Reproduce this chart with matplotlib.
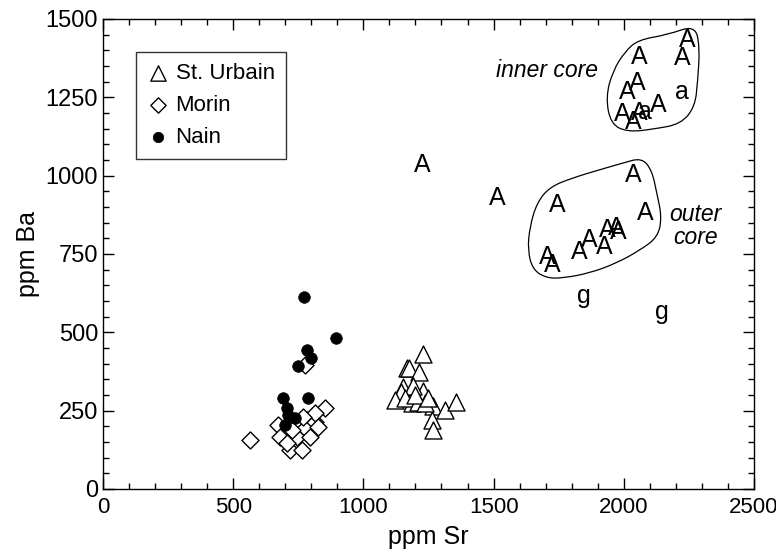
import numpy as np
import matplotlib
matplotlib.use("Agg")
import matplotlib.pyplot as plt
from matplotlib.path import Path
from matplotlib.patches import PathPatch
from matplotlib.ticker import MultipleLocator

plt.rcParams["font.family"] = ["Liberation Sans", "DejaVu Sans"]

# ── data (ppm Sr, ppm Ba) ────────────────────────────────────────────────────
urbain_sr = [1228, 1167, 1175, 1213, 1152, 1144, 1228, 1190, 1121, 1186,
             1159, 1209, 1267, 1313, 1355, 1263, 1267, 1236, 1200, 1250]
urbain_ba = [431, 386, 386, 373, 326, 310, 313, 329, 284, 274,
             290, 278, 265, 252, 278, 220, 188, 274, 300, 290]

morin_sr = [564, 775, 672, 679, 718, 764, 745, 783, 775, 814,
            852, 814, 825, 768, 726, 706, 795]
morin_ba = [156, 396, 204, 166, 124, 124, 166, 220, 195, 214,
            259, 242, 198, 230, 188, 147, 166]

nain_sr = [772, 894, 783, 798, 749, 691, 787, 706, 710, 737, 699]
nain_ba = [612, 482, 444, 419, 393, 290, 290, 258, 237, 227, 204]

# letter-coded samples
letter_sr = [1228, 1516, 2035, 2081, 1743, 1935, 1973, 1977, 1869, 1927,
             1831, 1708, 1727, 1846, 2146,
             2061, 2242, 2223, 2050, 2012, 2223, 2131, 1996, 2035, 2061, 2081]
letter_ba = [1034, 929, 1002, 881, 906, 827, 833, 820, 795, 772,
             756, 740, 715, 616, 565,
             1379, 1433, 1376, 1296, 1267, 1267, 1226, 1197, 1171, 1200, 1203]
letter_txt = ["A", "A", "A", "A", "A", "A", "A", "A", "A", "A",
              "A", "A", "A", "g", "g",
              "A", "A", "A", "A", "A", "a", "A", "A", "A", "A", "a"]

# field outlines (ppm Sr, ppm Ba)
inner_sr = [2169, 2273, 2292, 2284, 2273, 2219, 2119, 2015, 1950, 1931,
            1958, 2004, 2054]
inner_ba = [1450, 1480, 1411, 1302, 1219, 1165, 1149, 1139, 1165, 1251,
            1334, 1395, 1433]
outer_sr = [2069, 1996, 1908, 1804, 1716, 1666, 1639, 1631, 1651, 1704,
            1766, 1869, 1973, 2062, 2131, 2146, 2127, 2108]
outer_ba = [1057, 1040, 1019, 993, 964, 913, 836, 762, 699, 673,
            673, 689, 721, 762, 804, 868, 944, 1017]


def smooth_outline(xs, ys):
    """Closed quadratic-bezier path through midpoints, using points as controls."""
    pts = np.column_stack([xs, ys])
    mids = (pts + np.roll(pts, -1, axis=0)) / 2
    verts = [mids[-1]]
    codes = [Path.MOVETO]
    for p, m in zip(pts, mids):
        verts += [p, m]
        codes += [Path.CURVE3, Path.CURVE3]
    return Path(verts, codes)


fig = plt.figure(figsize=(7.76, 5.58), dpi=100)
ax = fig.add_axes([0.1327, 0.1237, 0.8389, 0.8423])

ax.scatter(urbain_sr, urbain_ba, marker="^", s=150, facecolor="white",
           edgecolor="black", linewidth=1.0, label="St. Urbain", zorder=3)
ax.scatter(morin_sr, morin_ba, marker="D", s=75, facecolor="white",
           edgecolor="black", linewidth=1.0, label="Morin", zorder=3)
ax.scatter(nain_sr, nain_ba, marker="o", s=70, facecolor="black",
           edgecolor="black", linewidth=0.5, label="Nain", zorder=4)

for x, y, t in zip(letter_sr, letter_ba, letter_txt):
    ax.text(x, y, t, fontsize=18, ha="center", va="center", zorder=5)

for xs, ys in [(inner_sr, inner_ba), (outer_sr, outer_ba)]:
    ax.add_patch(PathPatch(smooth_outline(xs, ys), facecolor="none",
                           edgecolor="black", lw=0.9))

ax.text(1900, 1337, "inner core", fontsize=16.5, style="italic",
        ha="right", va="center")
ax.text(2276, 839, "outer\ncore", fontsize=16.5, style="italic",
        ha="center", va="center", linespacing=1.0)

ax.set_xlim(0, 2500)
ax.set_ylim(0, 1500)
ax.xaxis.set_major_locator(MultipleLocator(500))
ax.xaxis.set_minor_locator(MultipleLocator(100))
ax.yaxis.set_major_locator(MultipleLocator(250))
ax.yaxis.set_minor_locator(MultipleLocator(50))
ax.tick_params(which="both", direction="in", top=True, right=True,
               labelsize=17, width=1.0)
ax.tick_params(which="major", length=8)
ax.tick_params(which="minor", length=4.5)
ax.tick_params(axis="x", which="major", pad=6, labelsize=16)
for sp in ax.spines.values():
    sp.set_linewidth(1.0)

ax.set_xlabel("ppm Sr", fontsize=18, labelpad=5)
ax.set_ylabel("ppm Ba", fontsize=18, labelpad=4)

leg = ax.legend(loc="upper left", bbox_to_anchor=(0.05, 0.93), fontsize=16,
                frameon=True, fancybox=False, borderpad=0.5,
                handletextpad=0.3, handlelength=1.0, labelspacing=0.5,
                markerscale=0.9, borderaxespad=0)
leg.get_frame().set_edgecolor("black")
leg.get_frame().set_linewidth(1.0)

fig.savefig("out.png", dpi=100)
